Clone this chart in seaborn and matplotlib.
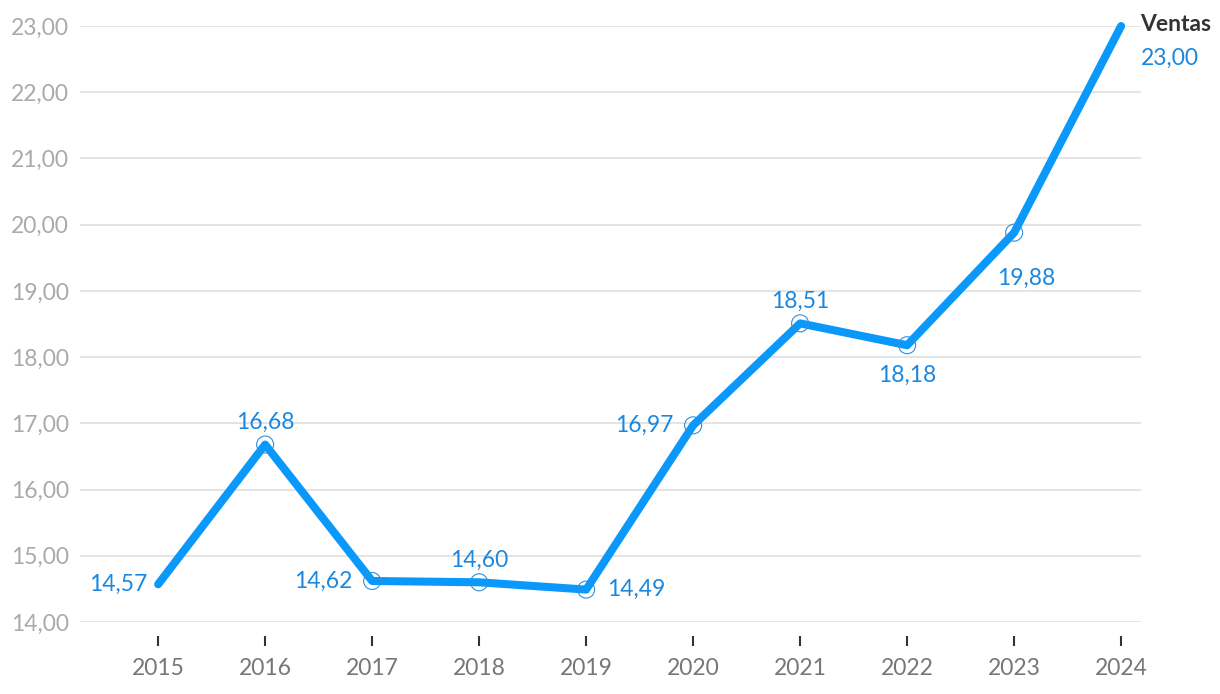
import matplotlib
matplotlib.use("Agg")
import matplotlib.pyplot as plt
import seaborn as sns
import pandas as pd
from matplotlib.ticker import FuncFormatter

years = [2015, 2016, 2017, 2018, 2019, 2020, 2021, 2022, 2023, 2024]
ventas = [14.57, 16.68, 14.62, 14.60, 14.49, 16.97, 18.51, 18.18, 19.88, 23.00]
label_pos = ["left", "above", "left", "above", "right", "left", "above", "below", "below2", "end"]
series_name = "Ventas"

sns.set_theme(style="white")
plt.rcParams["font.family"] = ["Lato", "DejaVu Sans"]

LINE = "#0a99fb"
LABEL = "#1a88e0"
FS = 16.5

df = pd.DataFrame({"year": years, "value": ventas})

fig = plt.figure(figsize=(12.2, 6.94), dpi=100)
ax = fig.add_axes([0.0656, 0.1037, 0.870, 0.8588])

sns.lineplot(data=df, x="year", y="value", ax=ax, color=LINE, linewidth=5.8,
             solid_capstyle="round", solid_joinstyle="round", clip_on=False, zorder=3)
mid = df.iloc[1:-1]
sns.scatterplot(data=mid, x="year", y="value", ax=ax, s=150, facecolor="none",
                edgecolor="#2f8fdc", linewidth=0.8, zorder=5, clip_on=False)

def fmt(v):
    return f"{v:.2f}".replace(".", ",")

for i, (x, y, p) in enumerate(zip(years, ventas, label_pos)):
    t = fmt(y)
    if p == "left":
        off = -8 if i == 0 else -14
        ax.annotate(t, (x, y), xytext=(off, 0), textcoords="offset points",
                    ha="right", va="center", color=LABEL, fontsize=FS)
    elif p == "right":
        ax.annotate(t, (x, y), xytext=(15, 0), textcoords="offset points",
                    ha="left", va="center", color=LABEL, fontsize=FS)
    elif p == "above":
        ax.annotate(t, (x, y), xytext=(0, 11), textcoords="offset points",
                    ha="center", va="baseline", color=LABEL, fontsize=FS)
    elif p == "below":
        ax.annotate(t, (x, y), xytext=(0, -14), textcoords="offset points",
                    ha="center", va="top", color=LABEL, fontsize=FS)
    elif p == "below2":
        ax.annotate(t, (x, y), xytext=(9, -33), textcoords="offset points",
                    ha="center", va="center", color=LABEL, fontsize=FS)
    else:
        ax.annotate(series_name, (x, y), xytext=(14, 1), textcoords="offset points",
                    ha="left", va="center", color="#333333", fontsize=FS,
                    fontweight="bold")
        ax.annotate(t, (x, y), xytext=(14, -23), textcoords="offset points",
                    ha="left", va="center", color=LABEL, fontsize=FS)

ax.set_xlim(2014.27, 2024.19)
ax.set_ylim(14, 23)
ax.set_xticks(years)
ax.set_yticks(range(14, 24))
ax.yaxis.set_major_formatter(FuncFormatter(lambda v, _: fmt(v)))
ax.grid(axis="y", color="#e2e2e2", linewidth=1.3)
ax.set_axisbelow(True)
for s in ["top", "right", "left"]:
    ax.spines[s].set_visible(False)
ax.spines["bottom"].set_position(("outward", 10))
ax.spines["bottom"].set_visible(False)
ax.tick_params(axis="x", bottom=True, direction="out", length=7, width=1.5,
               color="#333333", labelsize=FS, labelcolor="#777777", pad=9)
ax.tick_params(axis="y", left=False, labelsize=FS, labelcolor="#aaaaaa", pad=2)
ax.set_xlabel("")
ax.set_ylabel("")

fig.savefig("out.png", dpi=100)
